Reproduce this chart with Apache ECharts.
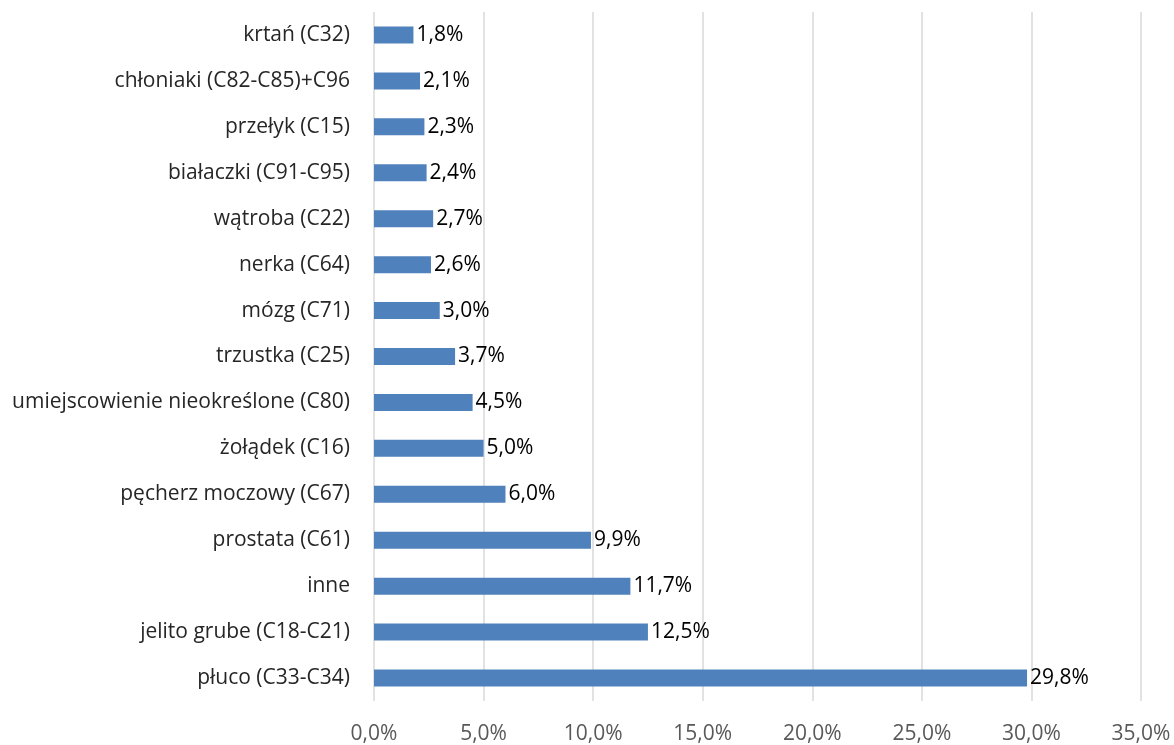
<!DOCTYPE html>
<html>
<head>
<meta charset="utf-8">
<script src="https://cdn.jsdelivr.net/npm/echarts@6/dist/echarts.min.js"></script>
<style>
html, body { margin: 0; padding: 0; background: #fff; }
#main { width: 1174px; height: 745px; }
</style>
</head>
<body>
<div id="main"></div>
<script>
// kategorie od dołu do góry
var categories = ['płuco (C33-C34)', 'jelito grube (C18-C21)', 'inne', 'prostata (C61)',
	'pęcherz moczowy (C67)', 'żołądek (C16)', 'umiejscowienie nieokreślone (C80)', 'trzustka (C25)',
	'mózg (C71)', 'nerka (C64)', 'wątroba (C22)', 'białaczki (C91-C95)', 'przełyk (C15)',
	'chłoniaki (C82-C85)+C96', 'krtań (C32)'];
var values = [29.8, 12.5, 11.7, 9.9, 6.0, 5.0, 4.5, 3.7, 3.0, 2.6, 2.7, 2.4, 2.3, 2.1, 1.8];
var xTicks = [0, 5, 10, 15, 20, 25, 30, 35];

var font = 'Open Sans';
function pct(v) { return v.toFixed(1).replace('.', ',') + '%'; }

var myChart = echarts.init(document.getElementById('main'));
var option = {
	animation: false,
	grid: { left: 374, right: 33, top: 12, bottom: 41 },
	xAxis: {
		type: 'value',
		min: xTicks[0],
		max: xTicks[xTicks.length - 1],
		interval: 5,
		axisLine: { show: false },
		axisTick: { show: false },
		splitLine: { lineStyle: { color: '#d9d9d9', width: 1.5 } },
		axisLabel: {
			margin: 23,
			color: '#595959',
			fontSize: 21,
			fontFamily: font,
			formatter: function(v) { return pct(v); }
		}
	},
	yAxis: {
		type: 'category',
		data: categories,
		axisLine: { show: false },
		axisTick: { show: false },
		axisLabel: {
			margin: 24,
			color: '#262626',
			fontSize: 21,
			fontFamily: font
		}
	},
	series: [{
		type: 'bar',
		data: values,
		barWidth: 17,
		itemStyle: { color: '#4f81bd' },
		label: {
			show: true,
			position: 'right',
			distance: 3,
			color: '#000',
			fontSize: 21,
			fontFamily: font,
			formatter: function(p) { return pct(p.value); }
		}
	}]
};
myChart.setOption(option);
</script>
</body>
</html>
